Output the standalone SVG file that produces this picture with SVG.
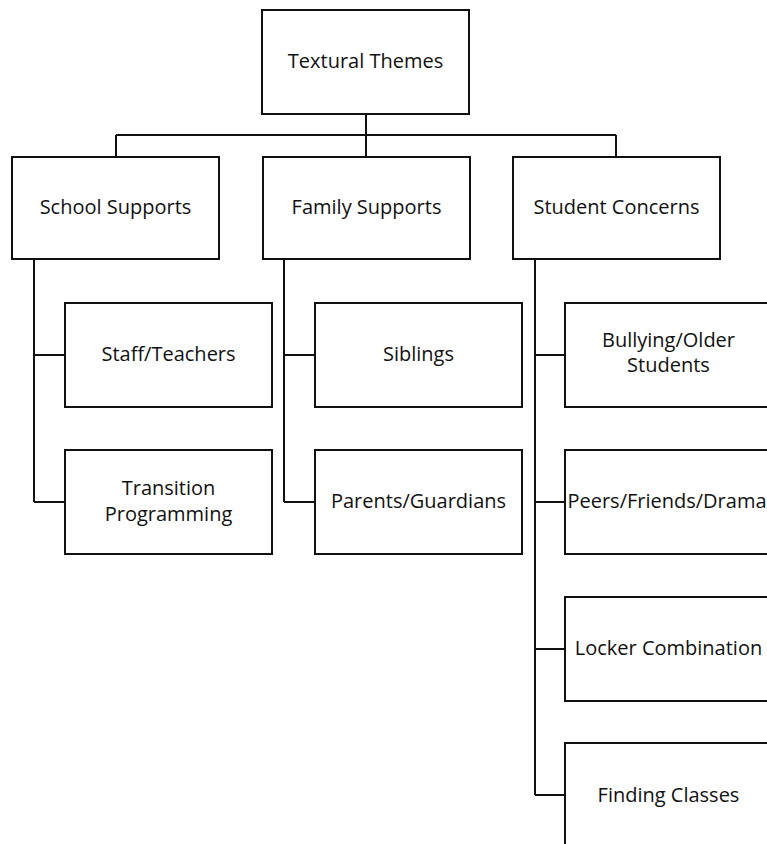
<svg xmlns="http://www.w3.org/2000/svg" width="767" height="844" viewBox="0 0 767 844">
<style>
.box{fill:#fff;stroke:#111;stroke-width:2}
.lbl{font-family:"Open Sans","Liberation Sans",sans-serif;font-size:20px;fill:#111;text-anchor:middle}
.con{fill:none;stroke:#111;stroke-width:2}
</style>
<rect width="767" height="844" fill="#fff"/>
<g id="connectors">
<path class="con" d="M366 114V157M116 135H616M116 135V157M616 135V157"/>
<path class="con" d="M34 259V502M34 355H65M34 502H65"/>
<path class="con" d="M284 259V502M284 355H315M284 502H315"/>
<path class="con" d="M535 259V795M535 355H565M535 502H565M535 649H565M535 795H565"/>
</g>
<g id="textural-themes"><rect class="box" x="262" y="10" width="207" height="104"/><text class="lbl" x="365.5" y="68">Textural Themes</text></g>
<g id="school-supports"><rect class="box" x="12" y="157" width="207" height="102"/><text class="lbl" x="115.5" y="214">School Supports</text></g>
<g id="family-supports"><rect class="box" x="263" y="157" width="207" height="102"/><text class="lbl" x="366.5" y="214">Family Supports</text></g>
<g id="student-concerns"><rect class="box" x="513" y="157" width="207" height="102"/><text class="lbl" x="616.5" y="214">Student Concerns</text></g>
<g id="staff-teachers"><rect class="box" x="65" y="303" width="207" height="104"/><text class="lbl" x="168.5" y="361">Staff/Teachers</text></g>
<g id="transition-programming"><rect class="box" x="65" y="450" width="207" height="104"/><text class="lbl" x="168.5" y="495">Transition</text><text class="lbl" x="168.5" y="521">Programming</text></g>
<g id="siblings"><rect class="box" x="315" y="303" width="207" height="104"/><text class="lbl" x="418.5" y="361">Siblings</text></g>
<g id="parents-guardians"><rect class="box" x="315" y="450" width="207" height="104"/><text class="lbl" x="418.5" y="508">Parents/Guardians</text></g>
<g id="bullying"><rect class="box" x="565" y="303" width="207" height="104"/><text class="lbl" x="668.5" y="347">Bullying/Older</text><text class="lbl" x="668.5" y="372">Students</text></g>
<g id="peers"><rect class="box" x="565" y="450" width="207" height="104"/><text class="lbl" x="667" y="508">Peers/Friends/Drama</text></g>
<g id="locker"><rect class="box" x="565" y="597" width="207" height="104"/><text class="lbl" x="668.5" y="655">Locker Combination</text></g>
<g id="finding-classes"><rect class="box" x="565" y="743" width="207" height="104"/><text class="lbl" x="668.5" y="802">Finding Classes</text></g>
</svg>
